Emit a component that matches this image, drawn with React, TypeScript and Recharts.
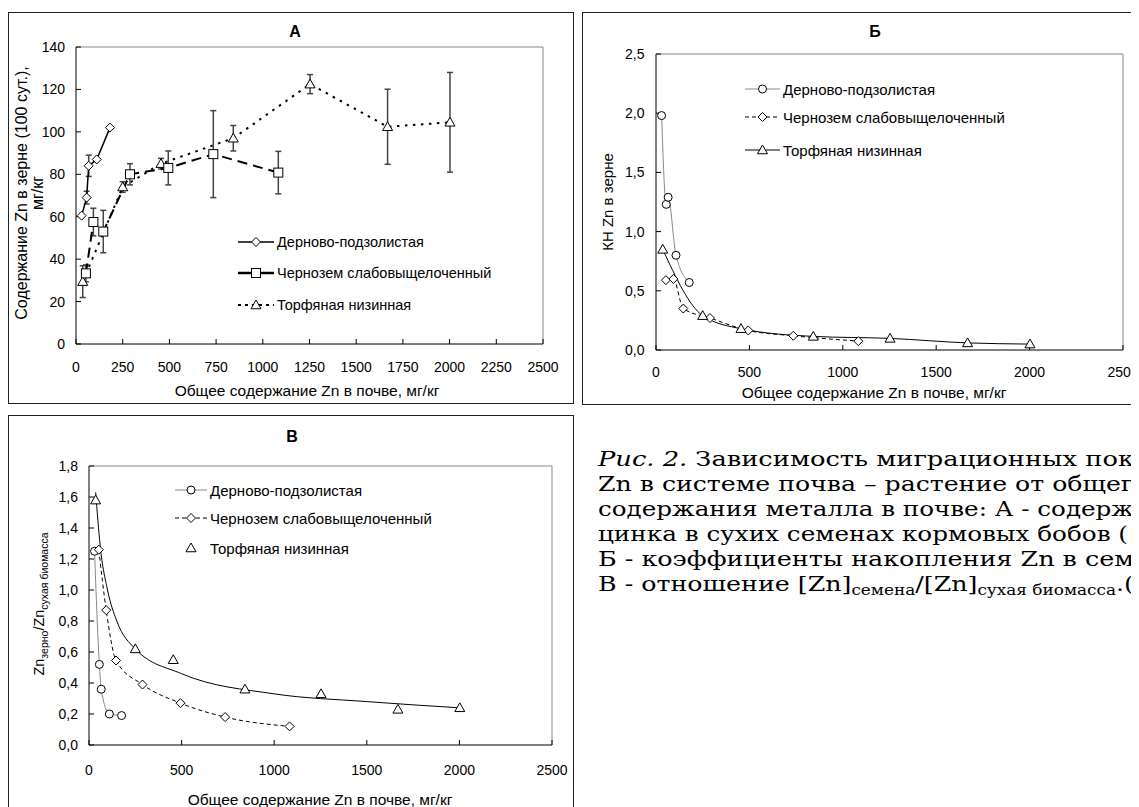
import React from 'react';
import { LineChart, Line, XAxis, YAxis, ErrorBar, ReferenceLine } from 'recharts';

// ---------- Panel A: Zn content in grain, mg/kg ----------
const aDerno = [
  { x: 30, y: 60.5, e: 0 },
  { x: 57, y: 69, e: 3 },
  { x: 68, y: 84, e: 5 },
  { x: 111, y: 87, e: 0 },
  { x: 182, y: 102, e: 0 },
];
const aChern = [
  { x: 53, y: 33.3, e: 4 },
  { x: 93, y: 57.5, e: 6.5 },
  { x: 146, y: 53, e: 10 },
  { x: 289, y: 80, e: 5 },
  { x: 494, y: 83, e: 8 },
  { x: 735, y: 89.5, e: 20.5 },
  { x: 1083, y: 80.8, e: 10 },
];
const aTorf = [
  { x: 36, y: 29.4, e: 7.5 },
  { x: 250, y: 74, e: 2.5 },
  { x: 455, y: 85, e: 2.5 },
  { x: 842, y: 97, e: 6 },
  { x: 1253, y: 122.5, e: 4.5 },
  { x: 1668, y: 102.4, e: 17.7 },
  { x: 2002, y: 104.5, e: 23.5 },
];
const aTicksX = [0, 250, 500, 750, 1000, 1250, 1500, 1750, 2000, 2250, 2500];
const aTicksY = [0, 20, 40, 60, 80, 100, 120, 140];

// ---------- Panel Б: accumulation coefficient ----------
const bDerno = [
  { x: 30, y: 1.98 },
  { x: 55, y: 1.23 },
  { x: 65, y: 1.29 },
  { x: 107, y: 0.8 },
  { x: 178, y: 0.57 },
];
const bChern = [
  { x: 53, y: 0.59 },
  { x: 93, y: 0.6 },
  { x: 146, y: 0.35 },
  { x: 289, y: 0.27 },
  { x: 494, y: 0.165 },
  { x: 735, y: 0.12 },
  { x: 1083, y: 0.075 },
];
const bTorf = [
  { x: 36, y: 0.85 },
  { x: 250, y: 0.29 },
  { x: 455, y: 0.18 },
  { x: 842, y: 0.115 },
  { x: 1253, y: 0.098 },
  { x: 1668, y: 0.06 },
  { x: 2002, y: 0.05 },
];
const bTicksX = [0, 500, 1000, 1500, 2000, 2500];
const bTicksY = [0, 0.5, 1, 1.5, 2, 2.5];

// ---------- Panel В: ratio grain / dry biomass ----------
const vDerno = [
  { x: 30, y: 1.25 },
  { x: 56, y: 0.52 },
  { x: 66, y: 0.36 },
  { x: 110, y: 0.2 },
  { x: 176, y: 0.19 },
];
const vChern = [
  { x: 53, y: 1.26 },
  { x: 93, y: 0.87 },
  { x: 146, y: 0.545 },
  { x: 289, y: 0.39 },
  { x: 494, y: 0.27 },
  { x: 735, y: 0.18 },
  { x: 1083, y: 0.12 },
];
const vTorf = [
  { x: 36, y: 1.58 },
  { x: 250, y: 0.62 },
  { x: 455, y: 0.55 },
  { x: 842, y: 0.36 },
  { x: 1253, y: 0.33 },
  { x: 1668, y: 0.23 },
  { x: 2002, y: 0.24 },
];
const vTorfTrend = [
  { x: 36, y: 1.63 },
  { x: 60, y: 1.29 },
  { x: 100, y: 1.0 },
  { x: 150, y: 0.8 },
  { x: 250, y: 0.62 },
  { x: 500, y: 0.46 },
  { x: 1000, y: 0.33 },
  { x: 1500, y: 0.28 },
  { x: 2000, y: 0.24 },
];
const vTicksX = [0, 500, 1000, 1500, 2000, 2500];
const vTicksY = [0, 0.2, 0.4, 0.6, 0.8, 1.0, 1.2, 1.4, 1.6, 1.8];

const labelsSoil = ['Дерново-подзолистая', 'Чернозем слабовыщелоченный', 'Торфяная низинная'];
const xTitle = 'Общее содержание Zn в почве, мг/кг';
// caption lines, as far as they are visible in the picture
const captionLines = [
  'Зависимость миграционных пок',
  'Zn в системе почва – растение от общег',
  'содержания металла в почве: А - содерж',
  'цинка в сухих семенах кормовых бобов (',
  'Б - коэффициенты накопления Zn в сем',
];

const FONT = '"Liberation Sans", Arial, sans-serif';
const tickStyle = { fill: '#000', fontSize: 14, fontFamily: FONT };
const comma = (v: number) => v.toFixed(1).replace('.', ',');

function marker(kind: string, cx: number, cy: number, key?: any) {
  if (cx == null || cy == null || isNaN(cx) || isNaN(cy)) return <g key={key} />;
  const st = { fill: '#fff', stroke: '#000', strokeWidth: 1 };
  if (kind === 'diamond') {
    const r = 4.5;
    return <path key={key} d={`M${cx},${cy - r}L${cx + r},${cy}L${cx},${cy + r}L${cx - r},${cy}Z`} {...st} />;
  }
  if (kind === 'square') {
    const r = 4.5;
    return <rect key={key} x={cx - r} y={cy - r} width={2 * r} height={2 * r} {...st} />;
  }
  if (kind === 'triangle') {
    const r = 5;
    return <path key={key} d={`M${cx},${cy - r}L${cx + r},${cy + r * 0.75}L${cx - r},${cy + r * 0.75}Z`} {...st} />;
  }
  return <circle key={key} cx={cx} cy={cy} r={4} {...st} />;
}
const dotOf = (kind: string) => (p: any) => marker(kind, p.cx, p.cy, `${kind}-${p.index}`);

const Abs = ({ left, top, children }: any) => (
  <div style={{ position: 'absolute', left, top }}>{children}</div>
);

const Frame = ({ left, top, width, height }: any) => (
  <div style={{ position: 'absolute', left, top, width, height, border: '1.5px solid #222', boxSizing: 'border-box' }} />
);

const Centered = ({ x, y, children, style }: any) => (
  <div
    style={{
      position: 'absolute', left: x, top: y, transform: 'translate(-50%, -50%)', whiteSpace: 'nowrap',
      fontFamily: FONT, fontSize: 15.5, color: '#000', ...style,
    }}
  >
    {children}
  </div>
);

// rotated text block centred on (x, y); w = length along the text, h = thickness
const Rotated = ({ x, y, w, h, children, style }: any) => (
  <div
    style={{
      position: 'absolute', left: x - w / 2, top: y - h / 2, width: w, height: h,
      display: 'flex', flexDirection: 'column', alignItems: 'center', justifyContent: 'center',
      transform: 'rotate(-90deg)', transformOrigin: '50% 50%', whiteSpace: 'nowrap',
      fontFamily: FONT, fontSize: 16, color: '#000', textAlign: 'center', ...style,
    }}
  >
    {children}
  </div>
);

const LegendRow = ({ x, y, kind, dash, sw, stroke, noLine, text, len, fs }: any) => (
  <div style={{ position: 'absolute', left: x, top: y - 10, height: 20, display: 'flex', alignItems: 'center', whiteSpace: 'nowrap', fontFamily: FONT, fontSize: fs || 14.5 }}>
    <svg width={len} height={20} style={{ display: 'block' }}>
      {!noLine && <line x1={0} y1={10} x2={len} y2={10} stroke={stroke || '#000'} strokeWidth={sw || 1} strokeDasharray={dash} />}
      {marker(kind, len / 2, 10)}
    </svg>
    <span style={{ marginLeft: 3 }}>{text}</span>
  </div>
);

const axisCommon = { axisLine: { stroke: '#000' }, tickLine: { stroke: '#000' }, tick: tickStyle, tickSize: -5 };

const capBase = [18, 43, 68, 93, 118, 143];
const capLen = [536, 536, 536, 530, 536, 536];

export default function App() {
  return (
    <div style={{ position: 'relative', width: 1131, height: 799, overflow: 'hidden', background: '#fff' }}>
      {/* Panel frames */}
      <Frame left={0} top={4} width={566} height={392} />
      <Frame left={574} top={4} width={600} height={393} />
      <Frame left={0} top={407} width={566} height={400} />

      {/* ---------- Panel A ---------- */}
      <Abs left={0} top={0}>
        <LineChart width={567} height={390} margin={{ top: 39, right: 32, bottom: 24, left: 28 }}>
          <XAxis type="number" dataKey="x" domain={[0, 2500]} ticks={aTicksX} height={30} tickMargin={23} {...axisCommon} allowDataOverflow />
          <YAxis type="number" dataKey="y" domain={[0, 140]} ticks={aTicksY} width={40} tickMargin={16} {...axisCommon} allowDataOverflow />
          <ReferenceLine y={140} stroke="#888" />
          <ReferenceLine x={2500} stroke="#888" />
          <Line data={aTorf} dataKey="y" type="linear" stroke="#000" strokeWidth={2} strokeDasharray="2.5 5.5" dot={dotOf('triangle')} isAnimationActive={false}>
            <ErrorBar dataKey="e" width={3} stroke="#444" direction="y" />
          </Line>
          <Line data={aChern} dataKey="y" type="linear" stroke="#000" strokeWidth={2} strokeDasharray="10 6" dot={dotOf('square')} isAnimationActive={false}>
            <ErrorBar dataKey="e" width={3} stroke="#444" direction="y" />
          </Line>
          <Line data={aDerno} dataKey="y" type="linear" stroke="#000" strokeWidth={1.5} dot={dotOf('diamond')} isAnimationActive={false}>
            <ErrorBar dataKey="e" width={3} stroke="#444" direction="y" />
          </Line>
        </LineChart>
      </Abs>
      <Centered x={287} y={24} style={{ fontWeight: 'bold', fontSize: 16 }}>А</Centered>
      <Centered x={299} y={383}>{xTitle}</Centered>
      <Rotated x={22} y={185} w={320} h={34} style={{ lineHeight: '16px' }}>
        <div>Содержание Zn в зерне (100 сут.),</div>
        <div>мг/кг</div>
      </Rotated>
      <LegendRow x={230} y={234} kind="diamond" sw={1.5} text={labelsSoil[0]} len={36} />
      <LegendRow x={230} y={265} kind="square" sw={2.5} text={labelsSoil[1]} len={36} />
      <LegendRow x={230} y={297} kind="triangle" sw={2} dash="3 4" text={labelsSoil[2]} len={36} />

      {/* ---------- Panel Б ---------- */}
      <Abs left={574} top={0}>
        <LineChart width={600} height={400} margin={{ top: 46, right: 59, bottom: 28, left: 34 }}>
          <XAxis type="number" dataKey="x" domain={[0, 2500]} ticks={bTicksX} height={30} tickMargin={22} {...axisCommon} allowDataOverflow />
          <YAxis type="number" dataKey="y" domain={[0, 2.5]} ticks={bTicksY} width={40} tickMargin={16.5} tickFormatter={comma} {...axisCommon} allowDataOverflow />
          <ReferenceLine y={2.5} stroke="#888" />
          <ReferenceLine x={2500} stroke="#888" />
          <Line data={bDerno} dataKey="y" type="monotone" stroke="#888" strokeWidth={1} dot={dotOf('circle')} isAnimationActive={false} />
          <Line data={bChern} dataKey="y" type="monotone" stroke="#000" strokeWidth={1} strokeDasharray="4 3" dot={dotOf('diamond')} isAnimationActive={false} />
          <Line data={bTorf} dataKey="y" type="monotone" stroke="#000" strokeWidth={1} dot={dotOf('triangle')} isAnimationActive={false} />
        </LineChart>
      </Abs>
      <Centered x={867} y={24} style={{ fontWeight: 'bold', fontSize: 16 }}>Б</Centered>
      <Centered x={866} y={385}>{xTitle}</Centered>
      <Rotated x={599} y={194} w={160} h={20} style={{ fontSize: 15 }}>КН Zn в зерне</Rotated>
      <LegendRow x={737} y={81} kind="circle" stroke="#888" text={labelsSoil[0]} len={35} fs={15} />
      <LegendRow x={737} y={109} kind="diamond" dash="4 3" text={labelsSoil[1]} len={35} fs={15} />
      <LegendRow x={737} y={142} kind="triangle" text={labelsSoil[2]} len={35} fs={15} />

      {/* ---------- Panel В ---------- */}
      <Abs left={0} top={407}>
        <LineChart width={567} height={392} margin={{ top: 51, right: 23, bottom: 32, left: 41 }}>
          <XAxis type="number" dataKey="x" domain={[0, 2500]} ticks={vTicksX} height={30} tickMargin={25} {...axisCommon} allowDataOverflow />
          <YAxis type="number" dataKey="y" domain={[0, 1.8]} ticks={vTicksY} width={40} tickMargin={16} tickFormatter={comma} {...axisCommon} allowDataOverflow />
          <ReferenceLine y={1.8} stroke="#888" />
          <ReferenceLine x={2500} stroke="#888" />
          <Line data={vTorfTrend} dataKey="y" type="monotone" stroke="#000" strokeWidth={1} dot={false} isAnimationActive={false} />
          <Line data={vDerno} dataKey="y" type="monotone" stroke="#888" strokeWidth={1} dot={dotOf('circle')} isAnimationActive={false} />
          <Line data={vChern} dataKey="y" type="monotone" stroke="#000" strokeWidth={1} strokeDasharray="4 3" dot={dotOf('diamond')} isAnimationActive={false} />
          <Line data={vTorf} dataKey="y" type="linear" stroke="none" strokeWidth={0} dot={dotOf('triangle')} isAnimationActive={false} />
        </LineChart>
      </Abs>
      <Centered x={284} y={429} style={{ fontWeight: 'bold', fontSize: 16 }}>В</Centered>
      <Centered x={312} y={792}>{xTitle}</Centered>
      <Rotated x={32} y={596} w={200} h={24} style={{ fontSize: 14.5 }}>
        <span>
          Zn<sub style={{ fontSize: 10.5 }}>зерно</sub>/Zn<sub style={{ fontSize: 10.5 }}>сухая биомасса</sub>
        </span>
      </Rotated>
      <LegendRow x={167} y={482} kind="circle" stroke="#888" text={labelsSoil[0]} len={32} fs={15} />
      <LegendRow x={167} y={510} kind="diamond" dash="4 3" text={labelsSoil[1]} len={32} fs={15} />
      <LegendRow x={167} y={540} kind="triangle" noLine text={labelsSoil[2]} len={32} fs={15} />

      {/* ---------- Caption ---------- */}
      <svg style={{ position: 'absolute', left: 590, top: 440, overflow: 'visible' }} width={541} height={160}>
        <g fontFamily='"DejaVu Serif", serif' fontSize={21} fill="#000">
          <text x={0} y={capBase[0]} textLength={capLen[0]} lengthAdjust="spacingAndGlyphs">
            <tspan fontStyle="italic">Рис. 2.</tspan> {captionLines[0]}
          </text>
          {captionLines.slice(1).map((t, i) => (
            <text key={i} x={0} y={capBase[i + 1]} textLength={capLen[i + 1]} lengthAdjust="spacingAndGlyphs">{t}</text>
          ))}
          <text x={0} y={capBase[5]} textLength={capLen[5]} lengthAdjust="spacingAndGlyphs">
            В - отношение [Zn]
            <tspan fontSize={14} dy={4}>семена</tspan>
            <tspan dy={-4}>/[Zn]</tspan>
            <tspan fontSize={14} dy={4}>сухая биомасса</tspan>
            <tspan dy={-4}>.(</tspan>
          </text>
        </g>
      </svg>
    </div>
  );
}
